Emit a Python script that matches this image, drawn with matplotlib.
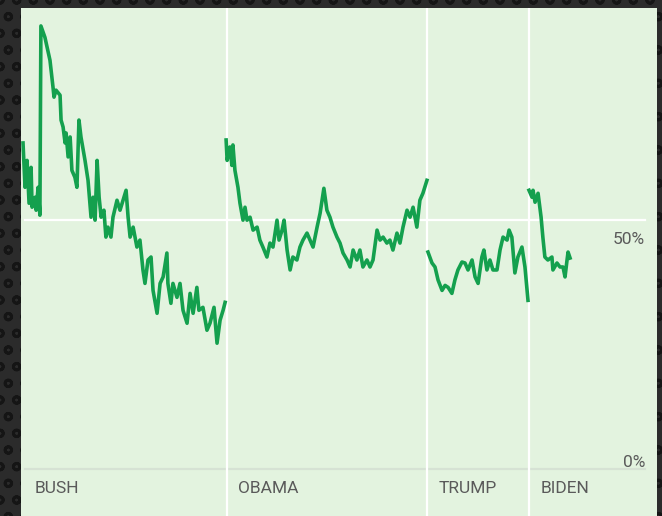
import matplotlib
matplotlib.use("Agg")
import matplotlib.pyplot as plt

# approval, % (decimal year, value)
bush_t = [2001.00, 2001.08, 2001.16, 2001.24, 2001.32, 2001.36, 2001.48, 2001.52, 2001.60, 2001.67,
          2001.71, 2001.87, 2002.07, 2002.19, 2002.23, 2002.31, 2002.47, 2002.51, 2002.59, 2002.67,
          2002.71, 2002.79, 2002.87, 2002.94, 2003.06, 2003.14, 2003.22, 2003.30, 2003.46, 2003.58,
          2003.70, 2003.78, 2003.86, 2003.94, 2004.02, 2004.10, 2004.21, 2004.29, 2004.37, 2004.49,
          2004.57, 2004.73, 2004.85, 2004.97, 2005.09, 2005.17, 2005.25, 2005.37, 2005.52, 2005.64,
          2005.76, 2005.84, 2005.96, 2006.08, 2006.16, 2006.32, 2006.44, 2006.56, 2006.71, 2006.75,
          2006.87, 2006.95, 2007.11, 2007.23, 2007.35, 2007.51, 2007.63, 2007.75, 2007.90, 2007.98,
          2008.14, 2008.30, 2008.42, 2008.58, 2008.70, 2008.82, 2008.94, 2009.02]
bush_v = [65.5, 56.6, 62.0, 53.4, 60.6, 52.6, 54.6, 52.0, 56.6, 51.0,
          89.0, 86.7, 82.1, 76.7, 74.7, 76.1, 75.1, 70.1, 68.7, 65.5,
          67.5, 62.7, 66.7, 60.0, 58.6, 56.6, 70.1, 66.7, 62.0, 58.0,
          50.6, 54.6, 50.0, 62.0, 54.6, 50.6, 52.0, 46.6, 48.6, 46.6,
          50.6, 54.0, 52.0, 54.0, 56.0, 50.6, 46.6, 48.6, 44.6, 46.0,
          40.0, 37.3, 42.0, 42.6, 35.9, 31.3, 37.3, 38.6, 43.4, 37.3,
          33.3, 37.3, 34.5, 37.3, 31.9, 29.3, 35.3, 31.3, 36.5, 31.9,
          32.5, 27.9, 29.3, 32.5, 25.3, 29.9, 31.9, 33.5]

obama_t = [2009.06, 2009.10, 2009.21, 2009.29, 2009.33, 2009.41, 2009.53, 2009.61, 2009.73, 2009.81,
           2009.89, 2010.01, 2010.13, 2010.29, 2010.40, 2010.52, 2010.68, 2010.80, 2010.92, 2011.08,
           2011.16, 2011.28, 2011.36, 2011.48, 2011.60, 2011.71, 2011.87, 2011.99, 2012.11, 2012.27,
           2012.39, 2012.51, 2012.67, 2012.79, 2012.94, 2013.06, 2013.18, 2013.30, 2013.46, 2013.58,
           2013.70, 2013.86, 2013.98, 2014.10, 2014.25, 2014.37, 2014.49, 2014.65, 2014.77, 2014.89,
           2015.05, 2015.17, 2015.29, 2015.44, 2015.56, 2015.68, 2015.84, 2015.96, 2016.08, 2016.24,
           2016.36, 2016.48, 2016.63, 2016.75, 2016.87, 2017.03]
obama_v = [66.1, 62.0, 64.7, 61.0, 65.1, 60.0, 56.6, 53.4, 50.0, 52.6,
           50.0, 50.6, 48.0, 48.6, 46.0, 44.6, 42.6, 45.4, 44.6, 50.0,
           46.0, 48.0, 50.0, 44.0, 40.0, 42.6, 42.0, 44.6, 46.0, 47.4,
           46.0, 44.6, 48.6, 51.4, 56.4, 52.0, 50.6, 48.6, 46.6, 45.4,
           43.4, 42.0, 40.6, 44.0, 42.0, 44.0, 40.6, 42.0, 40.6, 42.0,
           48.0, 46.0, 46.6, 45.4, 46.0, 44.0, 47.4, 45.4, 48.6, 52.0,
           50.6, 52.6, 48.6, 54.0, 55.4, 58.0]

trump_t = [2017.07, 2017.23, 2017.35, 2017.47, 2017.63, 2017.75, 2017.87, 2018.02, 2018.14, 2018.26,
           2018.42, 2018.54, 2018.66, 2018.82, 2018.94, 2019.06, 2019.21, 2019.29, 2019.41, 2019.53,
           2019.65, 2019.81, 2019.93, 2020.05, 2020.21, 2020.29, 2020.40, 2020.52, 2020.64, 2020.80,
           2020.92, 2021.04]
trump_v = [43.6, 41.4, 40.6, 38.0, 35.9, 36.9, 36.5, 35.3, 38.0, 40.0,
           41.6, 41.4, 40.0, 42.0, 38.6, 37.3, 42.6, 44.0, 40.0, 42.0,
           40.0, 40.0, 44.0, 46.6, 46.0, 48.0, 46.6, 39.4, 42.6, 44.6,
           40.6, 33.9]

biden_t = [2021.08, 2021.20, 2021.24, 2021.32, 2021.44, 2021.56, 2021.63, 2021.71, 2021.83, 2021.99,
           2022.03, 2022.19, 2022.31, 2022.43, 2022.51, 2022.59, 2022.63, 2022.71]
biden_v = [56.0, 54.6, 56.0, 53.6, 55.4, 50.6, 46.6, 42.6, 42.0, 42.6,
           40.0, 41.4, 40.6, 40.6, 38.6, 42.0, 43.6, 42.4]

terms = ["BUSH", "OBAMA", "TRUMP", "BIDEN"]
term_start = [2001.0, 2009.08, 2017.03, 2021.08]

green = "#14a04e"
panel = "#e3f3df"

plt.rcParams["hatch.linewidth"] = 2.0

fig = plt.figure(figsize=(6.62, 5.16), dpi=100)
fig.patch.set_facecolor("#2b2b2b")
fig.patch.set_edgecolor("#151515")
fig.patch.set_linewidth(0)
fig.patch.set_hatch("o")

# panel: px 21..657 wide, 8..516 tall
ax = fig.add_axes([21 / 662, 0, 636 / 662, 508 / 516])
ax.set_facecolor(panel)
ax.set_xlim(2000.92, 2026.16)
ax.set_ylim(-9.4, 92.6)

ax.plot([2001.08, 2025.68], [50, 50], color="white", lw=1.6, zorder=1)
ax.plot([2001.08, 2025.68], [0, 0], color="#d6e2d4", lw=1.6, zorder=1)
for t in term_start[1:]:
    ax.axvline(t, color="white", lw=1.6, zorder=1)

for t, v in [(bush_t, bush_v), (obama_t, obama_v), (trump_t, trump_v), (biden_t, biden_v)]:
    ax.plot(t, v, color=green, lw=2.6, zorder=3)

for name, t in zip(terms, term_start):
    ax.text(t + 0.45, -3.8, name, fontsize=12.5, color="#5a5a5a", family="Roboto",
            ha="left", va="center")
ax.text(2025.68, 46.2, "50%", fontsize=12.5, color="#5a5a5a", family="Roboto",
        ha="right", va="center")
ax.text(2025.68, 1.4, "0%", fontsize=12.5, color="#5a5a5a", family="Roboto",
        ha="right", va="center")

ax.set_xticks([])
ax.set_yticks([])
for s in ax.spines.values():
    s.set_visible(False)

fig.savefig("out.png", dpi=100, facecolor=fig.get_facecolor())
